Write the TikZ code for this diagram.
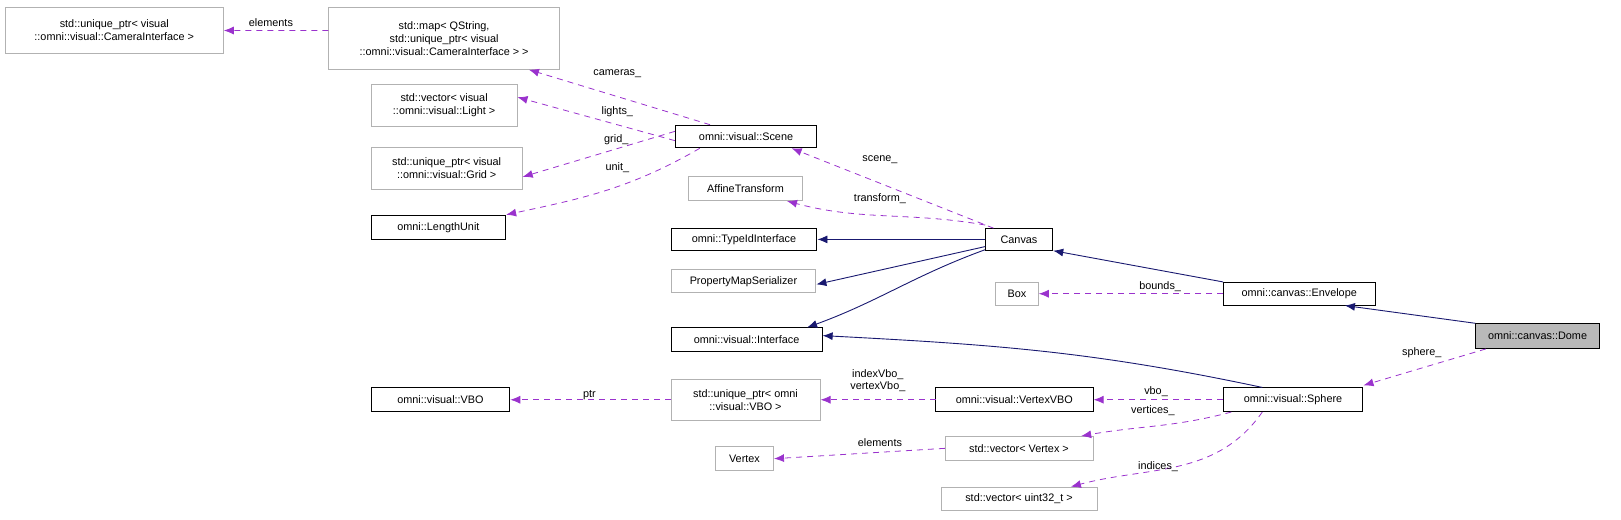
\documentclass[tikz,border=0pt]{standalone}
\usepackage{fontspec}
\setmainfont{Liberation Sans}
\usetikzlibrary{arrows.meta}
\definecolor{dep}{HTML}{9A32CD}
\definecolor{inh}{HTML}{191970}
\begin{document}
\begin{tikzpicture}[x=1pt,y=-1pt,scale=1.034,every node/.append style={transform shape},
 box/.style={draw=black,line width=0.8pt,inner sep=0pt,align=center,font=\fontsize{10.5}{12.5}\selectfont},
 gbox/.style={box,draw=gray!60},
 dp/.style={draw=dep,dash pattern=on 6pt off 5pt,line width=0.8pt,-{Latex[length=10pt,width=8pt]}},
 ih/.style={draw=inh,line width=0.9pt,-{Latex[length=10pt,width=8pt]}},
 lb/.style={font=\fontsize{10.5}{12}\selectfont,inner sep=0pt,align=center}]
\useasboundingbox (0,0) rectangle (1567.7,502);
\node[gbox,minimum width=211,minimum height=45] (uc) at (110.5,29.5) {std::unique\_ptr< visual\\::omni::visual::CameraInterface >};
\node[gbox,minimum width=223,minimum height=60] (map) at (429.5,37) {std::map< QString,\\ std::unique\_ptr< visual\\::omni::visual::CameraInterface > >};
\node[gbox,minimum width=141,minimum height=40] (vl) at (429.5,102) {std::vector< visual\\::omni::visual::Light >};
\node[box,minimum width=137,minimum height=22] (sc) at (721.5,132) {omni::visual::Scene};
\node[gbox,minimum width=146,minimum height=40] (ug) at (432,163) {std::unique\_ptr< visual\\::omni::visual::Grid >};
\node[box,minimum width=130,minimum height=24] (lu) at (424,220) {omni::LengthUnit};
\node[gbox,minimum width=110,minimum height=23] (af) at (721,182.5) {AffineTransform};
\node[box,minimum width=141,minimum height=21] (ti) at (719.5,231.5) {omni::TypeIdInterface};
\node[box,minimum width=65,minimum height=21] (cv) at (985.5,231.5) {Canvas};
\node[gbox,minimum width=140,minimum height=22] (pm) at (719,272) {PropertyMapSerializer};
\node[gbox,minimum width=41,minimum height=22] (bx) at (983.5,284) {Box};
\node[box,minimum width=147,minimum height=22] (en) at (1256.5,284) {omni::canvas::Envelope};
\node[box,minimum width=146,minimum height=23] (in) at (722,328.5) {omni::visual::Interface};
\node[box,fill=gray!55,minimum width=120,minimum height=24] (dm) at (1487,325) {omni::canvas::Dome};
\node[box,minimum width=134,minimum height=23] (vbo) at (426,386.5) {omni::visual::VBO};
\node[gbox,minimum width=144,minimum height=40] (uv) at (721,387) {std::unique\_ptr< omni\\::visual::VBO >};
\node[box,minimum width=152,minimum height=23] (vv) at (981,386.5) {omni::visual::VertexVBO};
\node[box,minimum width=135,minimum height=23] (sp) at (1250.5,386.5) {omni::visual::Sphere};
\node[gbox,minimum width=56,minimum height=23] (vx) at (720,443.5) {Vertex};
\node[gbox,minimum width=143,minimum height=23] (vvx) at (985.5,433.5) {std::vector< Vertex >};
\node[gbox,minimum width=151,minimum height=23] (vu) at (985.5,482.5) {std::vector< uint32\_t >};
% dependencies
\draw[dp] (map.west|-uc) -- (uc);
\draw[dp] ([xshift=34]sc.north west) -- ([xshift=-30]map.south east);
\draw[dp] ([yshift=-4]sc.west) -- ([yshift=8]vl.east);
\draw[dp] ([yshift=5]sc.west) -- ([yshift=-8]ug.east);
\draw[dp] ([xshift=24]sc.south west) to[out=-150,in=12] (lu.north east);
\draw[dp] ([xshift=8]cv.north west) -- ([xshift=44]sc.south);
\draw[dp] ([yshift=3]cv.north west) to[out=170,in=-15] ([xshift=40]af.south);
\draw[dp] (en.west) -- (bx.east);
\draw[dp] ([xshift=10]dm.south west) -- ([yshift=2]sp.north east);
\draw[dp] (sp.west) -- (vv.east);
\draw[dp] (vv.west) -- (uv.east|-vv);
\draw[dp] (uv.west|-vbo) -- (vbo.east);
\draw[dp] ([xshift=-60]sp.south) to[out=-165,in=10] ([xshift=-12]vvx.north east);
\draw[dp] (vvx.west) -- (vx.east);
\draw[dp] ([xshift=-30]sp.south) to[out=-125,in=15] ([xshift=50]vu.north);
% inheritance
\draw[ih] (cv.west) -- (ti.east);
\draw[ih] (en.north west) -- (cv.south east);
\draw[ih] (dm.north west) -- ([xshift=-30]en.south east);
\draw[ih] ([yshift=4]cv.south west) -- ([yshift=-3]pm.east);
\draw[ih] ([yshift=1]cv.south west) to[out=-160,in=20] ([xshift=-15]in.north east);
\draw[ih] ([xshift=-30]sp.north) to[out=168,in=-3] ([yshift=4]in.east);
% labels
\node[lb] at (262,22) {elements};
\node[lb] at (597,71) {cameras\_};
\node[lb] at (597,108) {lights\_};
\node[lb] at (596,135) {grid\_};
\node[lb] at (597,162) {unit\_};
\node[lb] at (851,154) {scene\_};
\node[lb] at (851,192) {transform\_};
\node[lb] at (1122,277) {bounds\_};
\node[lb] at (1375,341) {sphere\_};
\node[lb] at (1118,379) {vbo\_};
\node[lb] at (849,368) {indexVbo\_\\vertexVbo\_};
\node[lb] at (570,382) {ptr};
\node[lb] at (1115,397) {vertices\_};
\node[lb] at (851,428) {elements};
\node[lb] at (1120,451) {indices\_};
\end{tikzpicture}
\end{document}
